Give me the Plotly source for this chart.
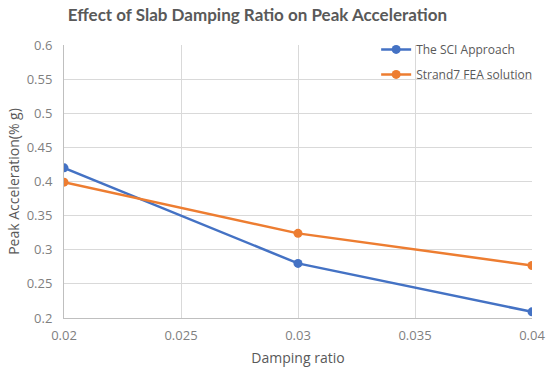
import plotly.graph_objects as go

damping = [0.02, 0.03, 0.04]
sci = [0.42, 0.28, 0.209]
strand7 = [0.399, 0.324, 0.277]
x_ticks = [0.02, 0.025, 0.03, 0.035, 0.04]
x_labels = ["0.02", "0.025", "0.03", "0.035", "0.04"]
y_ticks = [0.2, 0.25, 0.3, 0.35, 0.4, 0.45, 0.5, 0.55, 0.6]
y_labels = ["0.2", "0.25", "0.3", "0.35", "0.4", "0.45", "0.5", "0.55", "0.6"]

BLUE = "#4472C4"
ORANGE = "#ED7D31"
GRAY = "#595959"
GRID = "#D9D9D9"

fig = go.Figure()
fig.add_trace(go.Scatter(x=damping, y=sci, mode="lines+markers", name="The SCI Approach",
                         legendgroup="a",
                         line=dict(color=BLUE, width=2.5), marker=dict(size=9, color=BLUE)))
fig.add_trace(go.Scatter(x=damping, y=strand7, mode="lines+markers", name="Strand7 FEA solution",
                         legendgroup="b",
                         line=dict(color=ORANGE, width=2.5), marker=dict(size=9, color=ORANGE)))

fig.update_layout(
    width=550, height=367,
    margin=dict(l=64, r=18, t=45, b=49, autoexpand=False),
    paper_bgcolor="white", plot_bgcolor="white",
    font=dict(family="Open Sans, sans-serif", color=GRAY),
    title=dict(text="<b>Effect of Slab Damping Ratio on Peak Acceleration</b>",
               x=0.468, xanchor="center", y=0.958, yanchor="middle",
               font=dict(size=17, color=GRAY, family="Lato, sans-serif")),
    xaxis=dict(range=[0.02, 0.04], tickvals=x_ticks, ticktext=x_labels,
               showgrid=True, gridcolor=GRID, gridwidth=1,
               showline=True, linecolor="#BFBFBF", linewidth=1,
               tickfont=dict(size=13, color="#7F7F7F"), ticks="outside", ticklen=5,
               tickcolor="rgba(0,0,0,0)",
               title=dict(text="Damping ratio", font=dict(size=14, color=GRAY), standoff=10),
               zeroline=False),
    yaxis=dict(range=[0.2, 0.6], tickvals=y_ticks, ticktext=y_labels,
               showgrid=True, gridcolor=GRID, gridwidth=1,
               showline=True, linecolor="#BFBFBF", linewidth=1,
               tickfont=dict(size=13, color="#7F7F7F"), ticks="outside", ticklen=8,
               tickcolor="rgba(0,0,0,0)",
               title=dict(text="Peak Acceleration(% g)", font=dict(size=14, color=GRAY), standoff=3),
               zeroline=False),
    legend=dict(x=0.667, y=1.037, xanchor="left", yanchor="top",
                bgcolor="rgba(0,0,0,0)", font=dict(size=12, color=GRAY),
                tracegroupgap=6, itemwidth=30),
    showlegend=True,
)
fig.update_xaxes(automargin=False)
fig.update_yaxes(automargin=False)

fig.write_html("out.html",
               config={"displayModeBar": False},
               post_script="document.body.style.margin='0';document.body.style.overflow='hidden';")
